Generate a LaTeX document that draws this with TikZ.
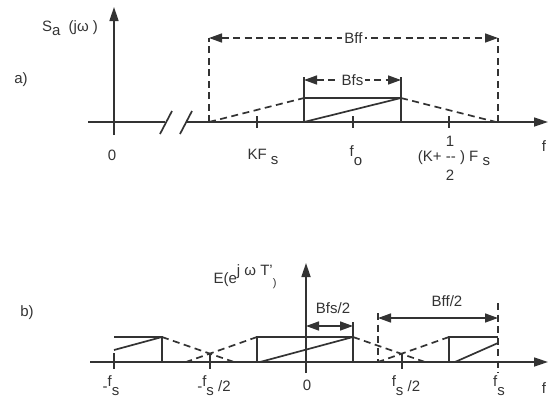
\documentclass[tikz,border=0pt]{standalone}
\usepackage{fontspec}
\setmainfont{Liberation Sans}
\usetikzlibrary{arrows.meta, positioning, calc}
\definecolor{ink}{gray}{0.2}
\newcommand{\lo}[1]{\raisebox{-0.55ex}{#1}}
\newcommand{\up}[1]{\raisebox{0.6ex}{#1}}

\begin{document}
\begin{tikzpicture}[x=1pt, y=-1pt,
  every node/.style={font=\fontsize{15}{17}\selectfont, text=ink, inner sep=0pt},
  axis/.style={draw=ink, line width=1.7pt},
  axarrow/.style={axis, -{Triangle[length=14pt, width=9pt]}},
  curve/.style={draw=ink, line width=1.7pt},
  dcurve/.style={curve, dash pattern=on 7pt off 4.5pt},
  dim/.style={draw=ink, line width=1.5pt, {Triangle[length=13pt, width=9pt]}-{Triangle[length=13pt, width=9pt]}},
  ddim/.style={dim, dash pattern=on 7pt off 4.5pt}]
  \useasboundingbox (0,0) rectangle (557,399);

  % a) analog spectrum
  \coordinate (a0)  at (88,122);
  \coordinate (ab1) at (165,122);
  \coordinate (ab2) at (186,122);
  \coordinate (aend) at (548,122);
  \coordinate (ay0) at (114,135);
  \coordinate (ay1) at (114,7);
  \draw[axis] (a0) -- (ab1);
  \draw[axarrow] (ab2) -- (aend);
  \draw[axarrow] (ay0) -- (ay1);
  \draw[axis] (160,134) -- (172,111);
  \draw[axis] (180,134) -- (192,111);
  \foreach \x/\name in {257/kfs, 353/fo, 449/khalf}
    \draw[axis] (\x,116) coordinate (\name) -- (\x,128);

  \coordinate (bffl) at (209,122);
  \coordinate (bffr) at (498,122);
  \coordinate (bffla) at (209,38);
  \coordinate (bffra) at (498,38);
  \coordinate (bl) at (304,122);
  \coordinate (br) at (401,122);
  \coordinate (tl) at (304,98);
  \coordinate (tr) at (401,98);
  \coordinate (tkl) at (304,77);
  \coordinate (tkr) at (401,77);
  \coordinate (bfsl) at (304,80);
  \coordinate (bfsr) at (401,80);

  \draw[dcurve] (bffl) -- (bffla);
  \draw[dcurve] (bffr) -- (bffra);
  \draw[ddim] (bffla) -- (bffra);
  \node[fill=white, inner xsep=2pt] (bff) at ($(bffla)!0.5!(bffra)$) {Bff};
  \draw[dcurve] (bffl) -- (tl);
  \draw[dcurve] (tr) -- (496,122);
  \draw[curve] (bl) -- (tkl);
  \draw[curve] (br) -- (tkr);
  \draw[curve] (tl) -- (tr);
  \draw[curve] (bl) -- (tr);
  \draw[ddim] (bfsl) -- (bfsr);
  \node[fill=white, inner xsep=2pt] (bfs) at ($(bfsl)!0.5!(bfsr)$) {Bfs};

  \node (sa) at (70,28) {S\lo{a}\ \ (jω )};
  \node (la) at (21,80) {a)};
  \node (n0) at (112,155) {0};
  \node (nkfs) at (263,157) {KF \lo{s}};
  \node (nfo) at (356,156) {\up{f}\lo{o}};
  \node (nkh) at (454,158) {(K+ {-}{-} ) F \lo{s}};
  \node (n1) at (450,141) {1};
  \node (n2) at (450,175) {2};
  \node (fa) at (544,146) {f};

  % b) sampled spectrum
  \coordinate (b0)  at (90,362);
  \coordinate (bend) at (548,362);
  \coordinate (by0) at (306,373);
  \coordinate (by1) at (306,263);
  \draw[axarrow] (b0) -- (bend);
  \draw[axarrow] (by0) -- (by1);
  \foreach \x/\name in {114/mfs, 210/mfh, 402/pfh}
    \draw[axis] (\x,353) coordinate (\name) -- (\x,369);

  % left copy
  \draw[curve] (114,337) -- (162,337) -- (162,362);
  \draw[curve] (114,350) -- (162,337);
  % centre copy
  \coordinate (cl) at (257,337);
  \coordinate (cr) at (353,337);
  \draw[curve] (257,362) -- (cl) -- (cr) -- (353,362);
  \draw[curve] (260,362) -- (cr);
  % right copy
  \draw[curve] (449,362) -- (449,337) -- (498,337);
  \draw[curve] (455,362) -- (498,343);

  \draw[dcurve] (162,337) -- (234,362);
  \draw[dcurve] (cl) -- (186,362);
  \draw[dcurve] (cr) -- (425,362);
  \draw[dcurve] (449,337) -- (378,362);

  \coordinate (hl) at (378,313);
  \coordinate (hr) at (498,303);
  \draw[dcurve] (hl) -- (378,362);
  \draw[dcurve] (hr) -- (498,373);
  \draw[dim] (378,318) -- (498,318);
  \node (bffh) at (447,301) {Bff/2};
  \draw[curve] (cr) -- (353,322);
  \draw[dim] (306,326) -- (353,326);
  \node (bfsh) at (333,308) {Bfs/2};

  \node (ee) at (245,277) {E(e\raisebox{1ex}{j ω T'}\raisebox{-0.4ex}{\fontsize{11}{13}\selectfont )}};
  \node (lb) at (27,313) {b)};
  \node (nmfs) at (111,386) {-\up{f}\lo{s}};
  \node (nmfh) at (214,386) {-\up{f}\lo{s} /2};
  \node (nb0) at (307,385) {0};
  \node (npfh) at (406,386) {\up{f}\lo{s} /2};
  \node (nfs) at (499,386) {\up{f}\lo{s}};
  \node (fb) at (544,388) {f};
\end{tikzpicture}
\end{document}
